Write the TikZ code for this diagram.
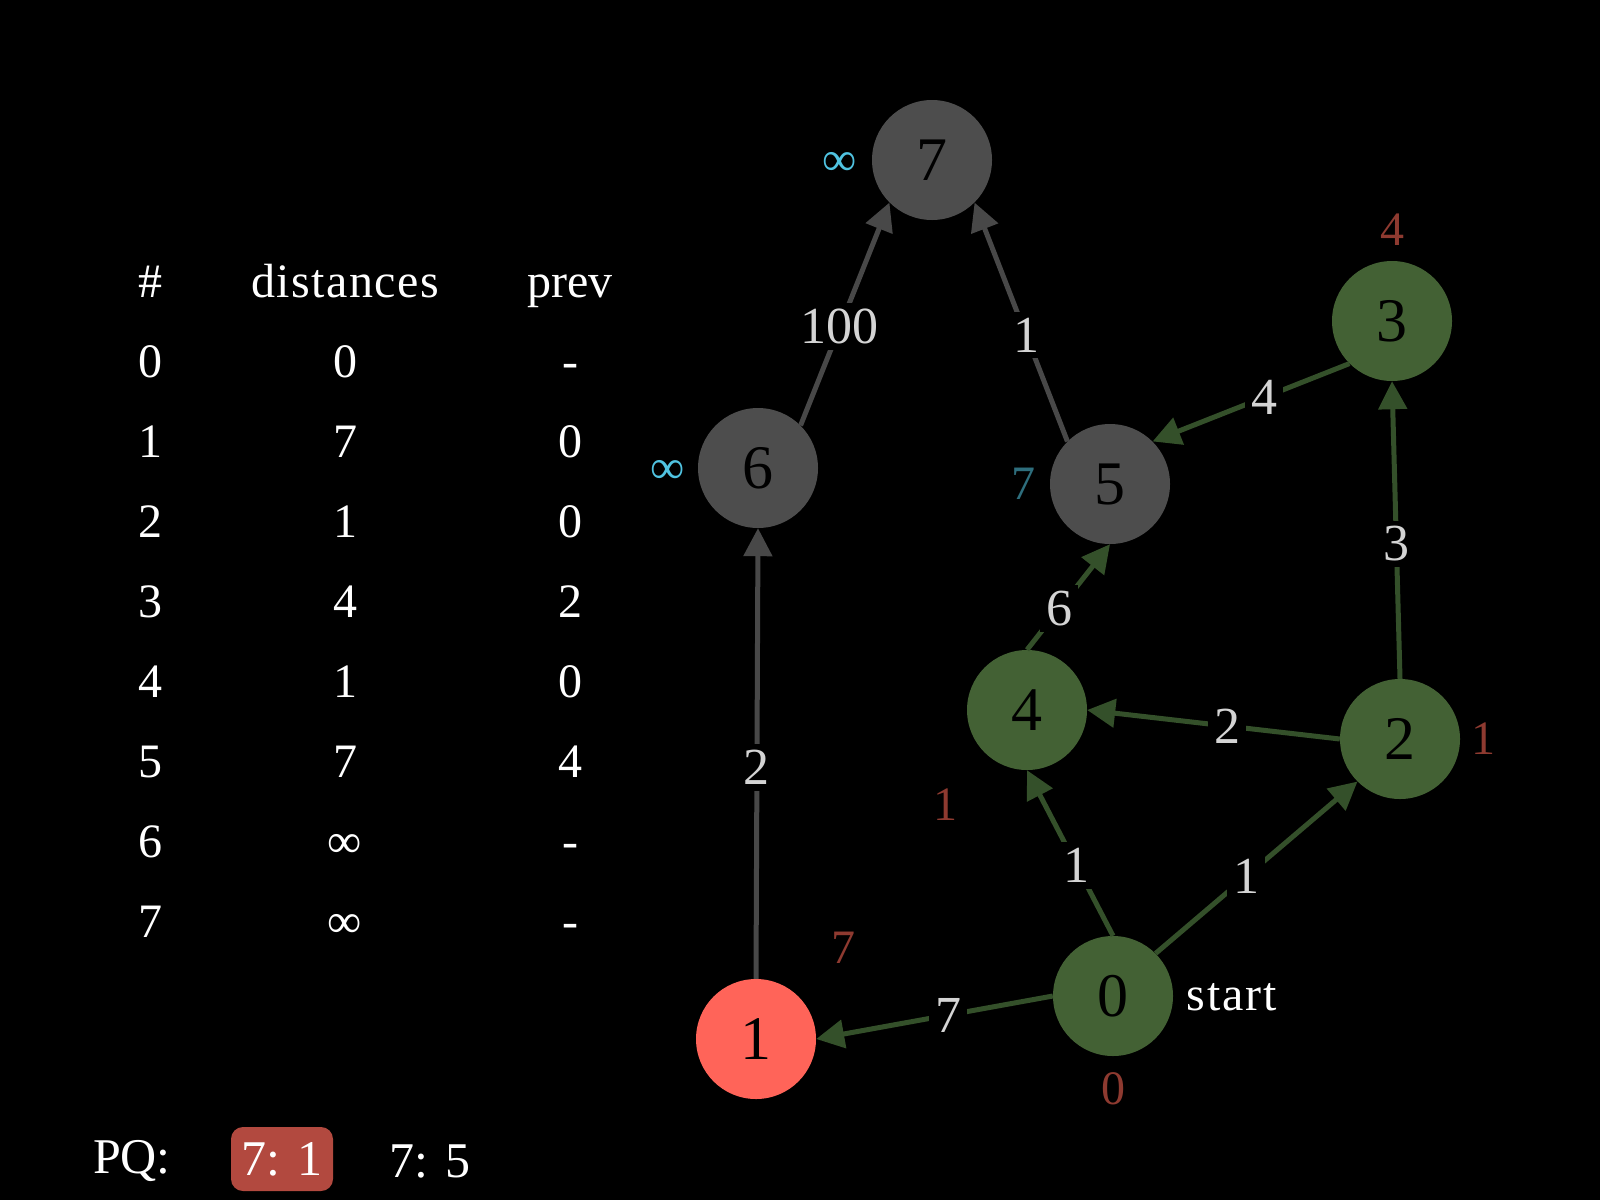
\documentclass[tikz,border=0pt]{standalone}
\usepackage{fontspec}
\setmainfont{Liberation Serif}
\usetikzlibrary{arrows.meta}
\definecolor{visitgreen}{RGB}{67, 97, 52}
\definecolor{edgegreen}{RGB}{52, 80, 42}
\definecolor{idlegray}{RGB}{77, 77, 77}
\definecolor{edgegray}{RGB}{72, 72, 72}
\definecolor{currentred}{RGB}{255, 100, 89}
\definecolor{distred}{RGB}{142, 58, 48}
\definecolor{infcyan}{RGB}{80, 195, 225}
\definecolor{distteal}{RGB}{46, 110, 125}
\definecolor{pqred}{RGB}{178, 73, 63}
\definecolor{weightgray}{RGB}{212, 212, 212}

\begin{document}
\begin{tikzpicture}[x=1pt, y=-1pt,
    vtx/.style={circle, minimum size=120pt, inner sep=0pt, text=black, font=\fontsize{62}{62}\selectfont},
    wedge/.style={line width=5pt, -{Triangle[length=28pt, width=28pt]}},
    weight/.style={fill=black, inner sep=6pt, text=weightgray, font=\fontsize{52}{52}\selectfont},
    dist/.style={inner sep=0pt, font=\fontsize{48}{48}\selectfont},
    tab/.style={anchor=base, inner sep=0pt, text=white, font=\fontsize{48}{48}\selectfont}]
  \fill[black] (0,0) rectangle (1600,1200);
  % table of distances
  \node[tab] (hnum) at (150,297) {\#};
  \node[tab] (hdist) at (345,297) {\addfontfeature{LetterSpace=3}distances};
  \node[tab] (hprev) at (570,297) {prev};
  \foreach \n/\dd/\pr in {0/0/-, 1/7/0, 2/1/0, 3/4/2, 4/1/0, 5/7/4, 6/∞/-, 7/∞/-} {
    \node[tab] (num\n) at (150,{377+80*\n}) {\n};
    \node[tab] (dist\n) at (345,{377+80*\n}) {\dd};
    \node[tab] (prev\n) at (570,{377+80*\n}) {\pr};
  }
  % graph
  \node[vtx, fill=idlegray] (v7) at (932,160) {7};
  \node[vtx, fill=idlegray] (v6) at (758,468) {6};
  \node[vtx, fill=idlegray] (v5) at (1110,484) {5};
  \node[vtx, fill=visitgreen] (v3) at (1392,321) {3};
  \node[vtx, fill=visitgreen] (v4) at (1027,710) {4};
  \node[vtx, fill=visitgreen] (v2) at (1400,739) {2};
  \node[vtx, fill=visitgreen] (v0) at (1113,996) {0};
  \node[vtx, fill=currentred] (v1) at (756,1039) {1};
  \draw[wedge, edgegray] (v6.north east) -- node[weight, pos=0.442] (w67) {100} (v7.south west);
  \draw[wedge, edgegray] (v5.north west) -- node[weight, pos=0.446] (w57) {1} (v7.south east);
  \draw[wedge, edgegray] (v1.north) -- node[weight, pos=0.469] (w16) {2} (v6.south);
  \draw[wedge, edgegreen] (v3.south west) -- node[weight, pos=0.434] (w35) {4} (v5.north east);
  \draw[wedge, edgegreen] (v2.north) -- node[weight, pos=0.453] (w23) {3} (v3.south);
  \draw[wedge, edgegreen] (v4.north) -- node[weight, pos=0.39] (w45) {6} (v5.south);
  \draw[wedge, edgegreen] (v2.west) -- node[weight, pos=0.445] (w24) {2} (v4.east);
  \draw[wedge, edgegreen] (v0.north) -- node[weight, pos=0.425] (w04) {1} (v4.south);
  \draw[wedge, edgegreen] (v0.north east) -- node[weight, pos=0.448] (w02) {1} (v2.south west);
  \draw[wedge, edgegreen] (v0.west) -- node[weight, pos=0.442] (w01) {7} (v1.east);
  % distance labels
  \node[dist, text=infcyan] (d7) at (840,164) {∞};
  \node[dist, text=infcyan] (d6) at (668,472) {∞};
  \node[dist, text=distteal] (d5) at (1023,484) {7};
  \node[dist, text=distred] (d3) at (1392,230) {4};
  \node[dist, text=distred] (d2) at (1483,739) {1};
  \node[dist, text=distred] (d4) at (945,805) {1};
  \node[dist, text=distred] (d1) at (843,948) {7};
  \node[dist, text=distred] (d0) at (1113,1089) {0};
  \node[tab] (start) at (1232,1010) {\addfontfeature{LetterSpace=4}start};
  % priority queue
  \node[tab, font=\fontsize{50}{50}\selectfont] (pq) at (132,1173) {PQ:};
  \node[fill=pqred, rounded corners=12pt, minimum width=102pt, minimum height=64pt, inner sep=0pt,
    text=white, font=\fontsize{50}{50}\selectfont] (pq1) at (282,1159) {7: 1};
  \node[tab, font=\fontsize{50}{50}\selectfont] (pq2) at (430,1177) {7: 5};
\end{tikzpicture}
\end{document}
